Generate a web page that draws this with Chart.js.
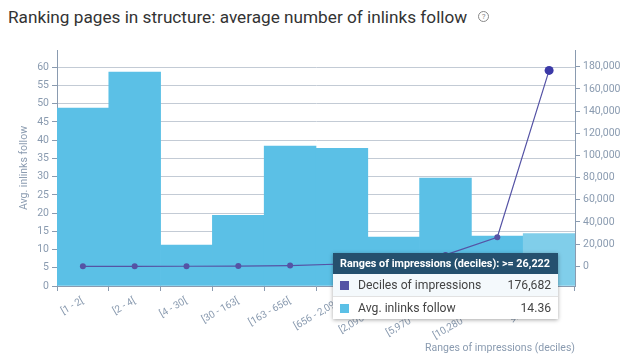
<!DOCTYPE html>
<html>
<head>
<meta charset="utf-8">
<script src="https://cdn.jsdelivr.net/npm/chart.js@4"></script>
<style>
  html, body { margin:0; padding:0; background:#fff; }
  body { width:620px; height:356px; position:relative; overflow:hidden; font-family:Roboto, "Noto Sans", sans-serif; }
  #title { position:absolute; left:8px; top:7px; font-size:17.2px; color:#333; white-space:nowrap; letter-spacing:0; }
  #help { display:inline-block; width:9px; height:9px; border:1px solid #888; border-radius:50%; font-size:8px; line-height:9px; text-align:center; color:#888; vertical-align:middle; margin-left:11px; position:relative; top:-2px; }
  #wrap { position:absolute; left:0; top:0; width:620px; height:356px; }
  #tip { position:absolute; background:#fff; box-shadow:0 1px 4px rgba(0,0,0,0.35); font-family:Roboto, sans-serif; width:225px; pointer-events:none; }
  #tip .hd { background:#25506e; color:#fff; font-weight:bold; font-size:10.8px; height:21px; line-height:21px; padding-left:7px; white-space:nowrap; }
  #tip .row { height:22px; line-height:22px; font-size:12.2px; color:#444; padding:0 7px; display:flex; align-items:center; }
  #tip .row + .row { border-top:1px solid #e2e2e2; }
  #tip .row.hl { background:#f4f9fc; }
  #tip .sq { width:9px; height:9px; margin-right:9px; flex:none; }
  #tip .lab { flex:1; }
  #tip .val { text-align:right; }
</style>
</head>
<body>
<div id="title">Ranking pages in structure: average number of inlinks follow<span id="help">?</span></div>
<div id="wrap"><canvas id="c" width="620" height="356"></canvas></div>
<div id="tip"></div>
<script>
const categories = ["[1 - 2[", "[2 - 4[", "[4 - 30[", "[30 - 163[", "[163 - 656[", "[656 - 2,090[", "[2,090 - 5,970[", "[5,970 - 10,280[", "[10,280 - 26,222[", ">= 26,222"];
const avgInlinks = [48.8, 58.7, 11.2, 19.4, 38.4, 37.8, 13.4, 29.6, 13.7, 14.36];
const decilesImpressions = [2, 4, 30, 163, 656, 2090, 5970, 10280, 26222, 176682];
const leftTicks = [0, 5, 10, 15, 20, 25, 30, 35, 40, 45, 50, 55, 60];
const rightTicks = [0, 20000, 40000, 60000, 80000, 100000, 120000, 140000, 160000, 180000];
const activeIndex = 9;

const axisCol = '#8a9bb0';
const tickFont = { family: 'Roboto', size: 10.5 };

function externalTip(context) {
  const { chart, tooltip } = context;
  const el = document.getElementById('tip');
  if (tooltip.opacity === 0) { el.style.display = 'none'; return; }
  const title = 'Ranges of impressions (deciles): ' + tooltip.title[0];
  let html = '<div class="hd">' + title + '</div>';
  tooltip.dataPoints.forEach((dp, i) => {
    const col = dp.dataset.legendColor;
    const v = dp.dataset.type === 'line'
      ? dp.raw.toLocaleString('en-US')
      : dp.raw.toLocaleString('en-US', { minimumFractionDigits: 2, maximumFractionDigits: 2 });
    html += '<div class="row' + (i === 0 ? ' hl' : '') + '"><span class="sq" style="background:' + col + '"></span><span class="lab">' + dp.dataset.label + '</span><span class="val">' + v + '</span></div>';
  });
  el.innerHTML = html;
  el.style.display = 'block';
  const w = el.offsetWidth;
  el.style.left = (tooltip.caretX + 9 - w) + 'px';
  el.style.top = (chart.chartArea.bottom - 33) + 'px';
}

const chart = new Chart(document.getElementById('c'), {
  data: {
    labels: categories,
    datasets: [
      {
        type: 'line', label: 'Deciles of impressions', data: decilesImpressions, yAxisID: 'y2', order: 0,
        borderColor: '#5553a5', backgroundColor: '#5553a5', legendColor: '#5553a5', borderWidth: 1.2,
        pointRadius: 3, pointHoverRadius: 4.5, pointBackgroundColor: '#5553a5', pointBorderWidth: 0,
        pointHoverBorderWidth: 0, tension: 0
      },
      {
        type: 'bar', label: 'Avg. inlinks follow', data: avgInlinks, yAxisID: 'y', order: 1,
        backgroundColor: '#5bc0e6', hoverBackgroundColor: '#80ceea', legendColor: '#5bc0e6',
        barPercentage: 1, categoryPercentage: 1, borderWidth: 0
      }
    ]
  },
  options: {
    responsive: false, animation: false,
    events: [],
    layout: { padding: { top: 50, left: 0, right: 0, bottom: 0 } },
    plugins: {
      legend: { display: false },
      tooltip: { enabled: false, mode: 'index', intersect: false, external: externalTip }
    },
    scales: {
      x: {
        offset: true,
        grid: { offset: true, drawOnChartArea: false, drawTicks: true, tickLength: 5, tickColor: axisCol },
        border: { color: axisCol, width: 1 },
        ticks: { color: axisCol, font: { family: 'Roboto', size: 10 }, maxRotation: 30, minRotation: 30, padding: 4, autoSkip: false },
        title: { display: true, text: 'Ranges of impressions (deciles)', align: 'end', color: axisCol, font: { family: 'Roboto', size: 10.5 }, padding: { top: 0, bottom: 1.5 } },
        afterFit: s => { s.height = 70; }
      },
      y: {
        position: 'left', min: 0, max: 64.75,
        afterBuildTicks: s => { s.ticks = leftTicks.map(v => ({ value: v })); },
        grid: { color: '#c3cbd5', lineWidth: 1, tickLength: 5, tickColor: axisCol },
        border: { color: axisCol, width: 1 },
        ticks: { color: axisCol, font: tickFont, padding: 3 },
        title: { display: true, text: 'Avg. inlinks follow', color: axisCol, font: { family: 'Roboto', size: 10.5 }, padding: { top: 18, bottom: 0 } },
        afterFit: s => { s.width = 57; }
      },
      y2: {
        position: 'right', min: -17760, max: 195060,
        afterBuildTicks: s => { s.ticks = rightTicks.map(v => ({ value: v })); },
        grid: { drawOnChartArea: false, tickLength: 5, tickColor: axisCol },
        border: { color: axisCol, width: 1 },
        ticks: { color: axisCol, font: tickFont, padding: 3, callback: v => v.toLocaleString('en-US') },
        afterFit: s => { s.width = 45; }
      }
    }
  }
});

const act = [{ datasetIndex: 0, index: activeIndex }, { datasetIndex: 1, index: activeIndex }];
chart.setActiveElements(act);
chart.tooltip.setActiveElements(act, { x: 0, y: 0 });
chart.update();
</script>
</body>
</html>
